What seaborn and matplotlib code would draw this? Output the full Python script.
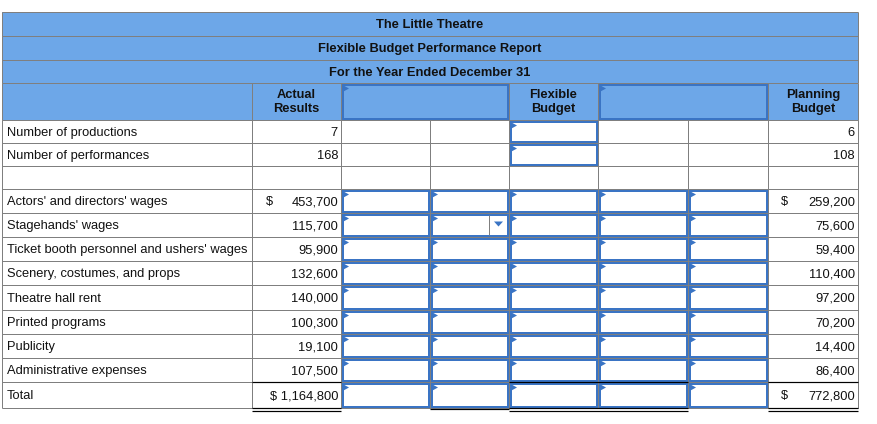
import matplotlib
matplotlib.use("Agg")
import matplotlib.pyplot as plt
import seaborn as sns
from matplotlib.patches import Rectangle, Polygon

sns.set_theme(style="white")
plt.rcParams['font.family'] = ['Liberation Sans', 'DejaVu Sans']

# ---- data ----
titles = ["The Little Theatre", "Flexible Budget Performance Report",
          "For the Year Ended December 31"]
col_headers = ["Actual\nResults", "", "Flexible\nBudget", "", "Planning\nBudget"]
row_labels = ["Number of productions", "Number of performances", "",
              "Actors' and directors' wages", "Stagehands' wages",
              "Ticket booth personnel and ushers' wages",
              "Scenery, costumes, and props", "Theatre hall rent",
              "Printed programs", "Publicity", "Administrative expenses", "Total"]
actual = [7, 168, None, 453700, 115700, 95900, 132600, 140000, 100300,
          19100, 107500, 1164800]
planning = [6, 108, None, 259200, 75600, 59400, 110400, 97200, 70200,
            14400, 86400, 772800]
dollar_rows = [3, 11]

# ---- layout ----
W, H = 877, 424
fig = plt.figure(figsize=(W / 100, H / 100), dpi=100)
ax = fig.add_axes([0, 0, 1, 1])
ax.set_xlim(0, W)
ax.set_ylim(H, 0)
ax.axis('off')

col_x = [2, 252, 341, 430, 509, 598, 688, 768, 858]
title_y = [12, 36, 60, 83]
head_y = [83, 120]
row_y = [120, 143, 166, 189, 213, 237, 261, 285, 310, 334, 358, 382, 408]

hdr = "#6DA7E8"
blue = "#3A74C4"
gray = "#7F7F7F"
px = 0.72
fs = 9.3
tc = '#111111'
dy = 1.3

# header background
ax.add_patch(Rectangle((col_x[0], title_y[0]), col_x[-1] - col_x[0],
                       head_y[1] - title_y[0], facecolor=hdr, edgecolor='none', zorder=0))

def input_cell(x0, x1, y0, y1, tri=True):
    ax.add_patch(Rectangle((x0 + 1.5, y0 + 1.5), x1 - x0 - 3, y1 - y0 - 3,
                           facecolor='none', edgecolor=blue, lw=2 * px, zorder=3))
    if tri:
        ax.add_patch(Polygon([(x0 + 2.5, y0 + 2.5), (x0 + 8, y0 + 5.5),
                              (x0 + 2.5, y0 + 8.5)], closed=True,
                             facecolor=blue, edgecolor='none', zorder=4))

# title rows
for y in title_y:
    ax.hlines(y, col_x[0], col_x[-1], color=gray, lw=px, zorder=2)
ax.vlines([col_x[0], col_x[-1]], title_y[0], title_y[-1], color=gray, lw=px, zorder=2)
for i, t in enumerate(titles):
    ax.text((col_x[0] + col_x[-1]) / 2, (title_y[i] + title_y[i + 1]) / 2 + dy, t,
            ha='center', va='center', fontsize=fs, fontweight='bold', color=tc)

# header row
ax.hlines(head_y[1], col_x[0], col_x[-1], color=gray, lw=px, zorder=2)
for x in [col_x[0], col_x[1], col_x[2], col_x[4], col_x[5], col_x[7], col_x[8]]:
    ax.vlines(x, head_y[0], head_y[1], color=gray, lw=px, zorder=2)
hcenters = [(col_x[1] + col_x[2]) / 2, None, (col_x[4] + col_x[5]) / 2, None,
            (col_x[7] + col_x[8]) / 2]
for c, t in zip(hcenters, col_headers):
    if t:
        ax.text(c, (head_y[0] + head_y[1]) / 2 + 0.5, t, ha='center', va='center',
                fontsize=fs, fontweight='bold', color=tc, linespacing=1.3)
input_cell(col_x[2], col_x[4], head_y[0], head_y[1])
input_cell(col_x[5], col_x[7], head_y[0], head_y[1])

# body grid
for y in row_y:
    ax.hlines(y, col_x[0], col_x[-1], color=gray, lw=px, zorder=2)
for x in col_x:
    ax.vlines(x, row_y[0], row_y[-1], color=gray, lw=px, zorder=2)

def fmt(v):
    return f"{v:,}"

for i, lab in enumerate(row_labels):
    y0, y1 = row_y[i], row_y[i + 1]
    yc = (y0 + y1) / 2 + dy
    if lab:
        ax.text(col_x[0] + 5, yc, lab, ha='left', va='center', fontsize=fs, color=tc)
    a = actual[i]
    if a is not None:
        if i == 11:
            ax.text(col_x[2] - 3, yc, "$ " + fmt(a), ha='right', va='center', fontsize=fs, color=tc)
        else:
            ax.text(col_x[2] - 3, yc, fmt(a), ha='right', va='center', fontsize=fs, color=tc)
            if i in dollar_rows:
                ax.text(col_x[1] + 14, yc, "$", ha='left', va='center', fontsize=fs, color=tc)
    p = planning[i]
    if p is not None:
        ax.text(col_x[8] - 3, yc, fmt(p), ha='right', va='center', fontsize=fs, color=tc)
        if i in dollar_rows:
            ax.text(col_x[7] + 13, yc, "$", ha='left', va='center', fontsize=fs, color=tc)
    # input cells
    if i in (0, 1):
        input_cell(col_x[4], col_x[5], y0, y1)
    elif i >= 3:
        for c in range(2, 7):
            input_cell(col_x[c], col_x[c + 1], y0, y1)

# dropdown in stagehands row
y0, y1 = row_y[4], row_y[5]
ax.vlines(489, y0 + 2, y1 - 2, color=gray, lw=px, zorder=4)
ax.add_patch(Polygon([(494, 221.5), (503, 221.5), (498.5, 226.5)], closed=True,
                     facecolor=blue, edgecolor='none', zorder=4))

# total row rules
ty, by = row_y[11], row_y[12]
for (a0, a1) in [(col_x[1], col_x[2]), (col_x[4], col_x[6]), (col_x[7], col_x[8])]:
    ax.hlines(ty, a0, a1, color='black', lw=1.2 * px, zorder=5)
    ax.hlines(by, a0, a1, color='black', lw=1.2 * px, zorder=5)
    ax.hlines(by + 2.5, a0, a1, color='black', lw=1.2 * px, zorder=5)
ax.hlines(by + 1, col_x[3], col_x[4], color='black', lw=1.2 * px, zorder=5)

fig.savefig("out.png", dpi=100, facecolor='white')
